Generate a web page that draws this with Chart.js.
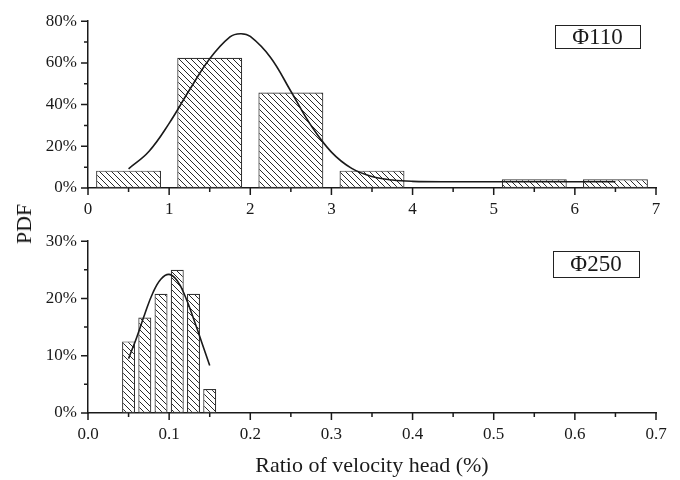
<!DOCTYPE html>
<html>
<head>
<meta charset="utf-8">
<script src="https://cdn.jsdelivr.net/npm/chart.js@4.4.1/dist/chart.umd.min.js"></script>
<style>
  html, body { margin: 0; padding: 0; background: #fff; }
  #wrap { position: relative; width: 680px; height: 480px; overflow: hidden; }
  #c1box { position: absolute; left: 0; top: 0; width: 680px; height: 220px; }
  #c2box { position: absolute; left: 0; top: 220px; width: 680px; height: 260px; }
  #pdf { position: absolute; left: 24px; top: 224px; transform: translate(-50%, -50%) rotate(-90deg);
         font-family: "Liberation Serif", "Times New Roman", serif; font-size: 22px; color: #111; white-space: nowrap; }
</style>
</head>
<body>
<div id="wrap">
  <div id="c1box"><canvas id="c1" width="680" height="220"></canvas></div>
  <div id="c2box"><canvas id="c2" width="680" height="260"></canvas></div>
  <div id="pdf">PDF</div>
</div>
<script>
// ---------- Data ----------
// Top panel: Φ110
const binCenters110 = [0.5, 1.5, 2.5, 3.5, 5.5, 6.5];
const pdf110 = [8.33, 62.5, 45.83, 8.33, 4.17, 4.17];
const fitX110 = [0.5, 0.75, 1.0, 1.25, 1.5, 1.75, 1.88, 2.0, 2.25, 2.5, 2.75, 3.0, 3.25, 3.5, 3.75, 4.0, 4.5, 5.0, 5.5, 6.0, 6.5];
const fitY110 = [9.2, 17.5, 31.0, 47.0, 62.0, 72.5, 74.0, 72.7, 62.6, 46.4, 29.9, 17.2, 9.4, 5.5, 3.8, 3.2, 3.0, 3.0, 3.0, 3.0, 3.0];
const xTicks110 = [0, 1, 2, 3, 4, 5, 6, 7];
const yTicks110 = [0, 20, 40, 60, 80];

// Bottom panel: Φ250
const binCenters250 = [0.05, 0.07, 0.09, 0.11, 0.13, 0.15];
const pdf250 = [12.5, 16.67, 20.83, 25.0, 20.83, 4.17];
const fitX250 = [0.05, 0.06, 0.07, 0.08, 0.09, 0.10, 0.11, 0.12, 0.13, 0.14, 0.15];
const fitY250 = [9.5, 13.2, 17.3, 21.0, 23.4, 24.2, 23.1, 20.3, 16.5, 12.4, 8.3];
const xTicks250 = [0.0, 0.1, 0.2, 0.3, 0.4, 0.5, 0.6, 0.7];
const yTicks250 = [0, 10, 20, 30];

const label110 = "Φ110";
const label250 = "Φ250";
const xTitle = "Ratio of velocity head (%)";

// ---------- Styling ----------
const FONT = '"Liberation Serif", "Times New Roman", serif';
const INK = '#1a1a1a';

function hatch() {
  const s = 6;
  const c = document.createElement('canvas');
  c.width = s; c.height = s;
  const g = c.getContext('2d');
  g.fillStyle = '#fff';
  g.fillRect(0, 0, s, s);
  g.strokeStyle = '#2a2a2a';
  g.lineWidth = 1;
  g.beginPath();
  g.moveTo(-1, -1); g.lineTo(s + 1, s + 1);
  g.moveTo(-1, s - 1); g.lineTo(1, s + 1);
  g.moveTo(s - 1, -1); g.lineTo(s + 1, 1);
  g.stroke();
  return g.createPattern(c, 'repeat');
}

// Draw major/minor outward ticks and the panel label box
const tickPlugin = {
  id: 'ticksAndLabel',
  afterDraw(chart, args, opts) {
    const ctx = chart.ctx;
    const xs = chart.scales.x, ys = chart.scales.y;
    const ca = chart.chartArea;
    ctx.save();
    ctx.strokeStyle = INK;
    ctx.lineWidth = 1.5;
    ctx.beginPath();
    const xMaj = opts.xMajor, xMin = opts.xMinor;
    for (let i = 0; i <= Math.round((xs.max - xs.min) / xMin); i++) {
      const v = xs.min + i * xMin;
      const px = xs.getPixelForValue(v);
      const isMaj = Math.abs(v / xMaj - Math.round(v / xMaj)) < 1e-6;
      ctx.moveTo(px, ca.bottom);
      ctx.lineTo(px, ca.bottom + (isMaj ? 7 : 4));
    }
    const yMaj = opts.yMajor, yMin = opts.yMinor;
    for (let i = 0; i <= Math.round((ys.max - ys.min) / yMin); i++) {
      const v = ys.min + i * yMin;
      const py = ys.getPixelForValue(v);
      const isMaj = Math.abs(v / yMaj - Math.round(v / yMaj)) < 1e-6;
      ctx.moveTo(ca.left, py);
      ctx.lineTo(ca.left - (isMaj ? 7 : 4), py);
    }
    ctx.stroke();
    const b = opts.box;
    ctx.lineWidth = 1;
    ctx.strokeStyle = '#222';
    ctx.strokeRect(b.x + 0.5, b.y + 0.5, b.w, b.h);
    ctx.fillStyle = INK;
    ctx.font = '23px ' + FONT;
    ctx.textAlign = 'center';
    ctx.textBaseline = 'middle';
    ctx.fillText(opts.text, b.x + b.w / 2, b.y + b.h / 2 + 1);
    ctx.restore();
  }
};

function makeChart(id, cfg) {
  const barData = cfg.bx.map((x, i) => ({ x: x, y: cfg.by[i] }));
  const lineData = cfg.lx.map((x, i) => ({ x: x, y: cfg.ly[i] }));
  return new Chart(document.getElementById(id), {
    data: {
      datasets: [
        {
          type: 'line', data: lineData, order: 0,
          borderColor: INK, borderWidth: 1.6, pointRadius: 0,
          tension: 0.4, fill: false
        },
        {
          type: 'bar', data: barData, order: 1,
          backgroundColor: hatch(), borderColor: '#333', borderWidth: 1.2,
          barPercentage: 0.8, categoryPercentage: 1.0, borderSkipped: false
        }
      ]
    },
    options: {
      responsive: false,
      animation: false,
      events: [],
      layout: { padding: cfg.padding },
      plugins: {
        legend: { display: false },
        tooltip: { enabled: false },
        ticksAndLabel: cfg.plug
      },
      scales: {
        x: {
          type: 'linear', min: cfg.xmin, max: cfg.xmax, offset: false,
          grid: { display: false, drawTicks: false },
          border: { display: true, color: INK, width: 1.5 },
          afterBuildTicks: (s) => { s.ticks = cfg.xt.map(v => ({ value: v })); },
          ticks: {
            color: INK, font: { family: FONT, size: 17 }, padding: cfg.xpad,
            maxRotation: 0, autoSkip: false,
            callback: cfg.xfmt
          },
          title: cfg.xtitle,
          afterFit: (s) => { s.height = cfg.xh; }
        },
        y: {
          type: 'linear', min: cfg.ymin, max: cfg.ymax,
          grid: { display: false, drawTicks: false },
          border: { display: true, color: INK, width: 1.5 },
          afterBuildTicks: (s) => { s.ticks = cfg.yt.map(v => ({ value: v })); },
          ticks: {
            color: INK, font: { family: FONT, size: 17 }, padding: 11,
            callback: (v) => v + '%'
          },
          afterFit: (s) => { s.width = 88; }
        }
      }
    },
    plugins: [tickPlugin]
  });
}

makeChart('c1', {
  bx: binCenters110, by: pdf110, lx: fitX110, ly: fitY110,
  xt: xTicks110, yt: yTicks110,
  xmin: 0, xmax: 7, ymin: 0, ymax: 80,
  xfmt: (v) => String(v),
  xpad: 11, xh: 32,
  padding: { left: 0, right: 24, top: 16, bottom: 0 },
  xtitle: { display: false },
  plug: { xMajor: 1, xMinor: 0.5, yMajor: 20, yMinor: 10, text: label110,
          box: { x: 555, y: 25, w: 85, h: 23 } }
});

makeChart('c2', {
  bx: binCenters250, by: pdf250, lx: fitX250, ly: fitY250,
  xt: xTicks250, yt: yTicks250,
  xmin: 0, xmax: 0.7, ymin: 0, ymax: 30,
  xfmt: (v) => v.toFixed(1),
  xpad: 11, xh: 67,
  padding: { left: 0, right: 24, top: 21, bottom: 0 },
  xtitle: { display: true, text: xTitle, color: INK, font: { family: FONT, size: 22 }, padding: { top: 0, bottom: 1 } },
  plug: { xMajor: 0.1, xMinor: 0.05, yMajor: 10, yMinor: 5, text: label250,
          box: { x: 553, y: 31, w: 86, h: 26 } }
});
</script>
</body>
</html>
